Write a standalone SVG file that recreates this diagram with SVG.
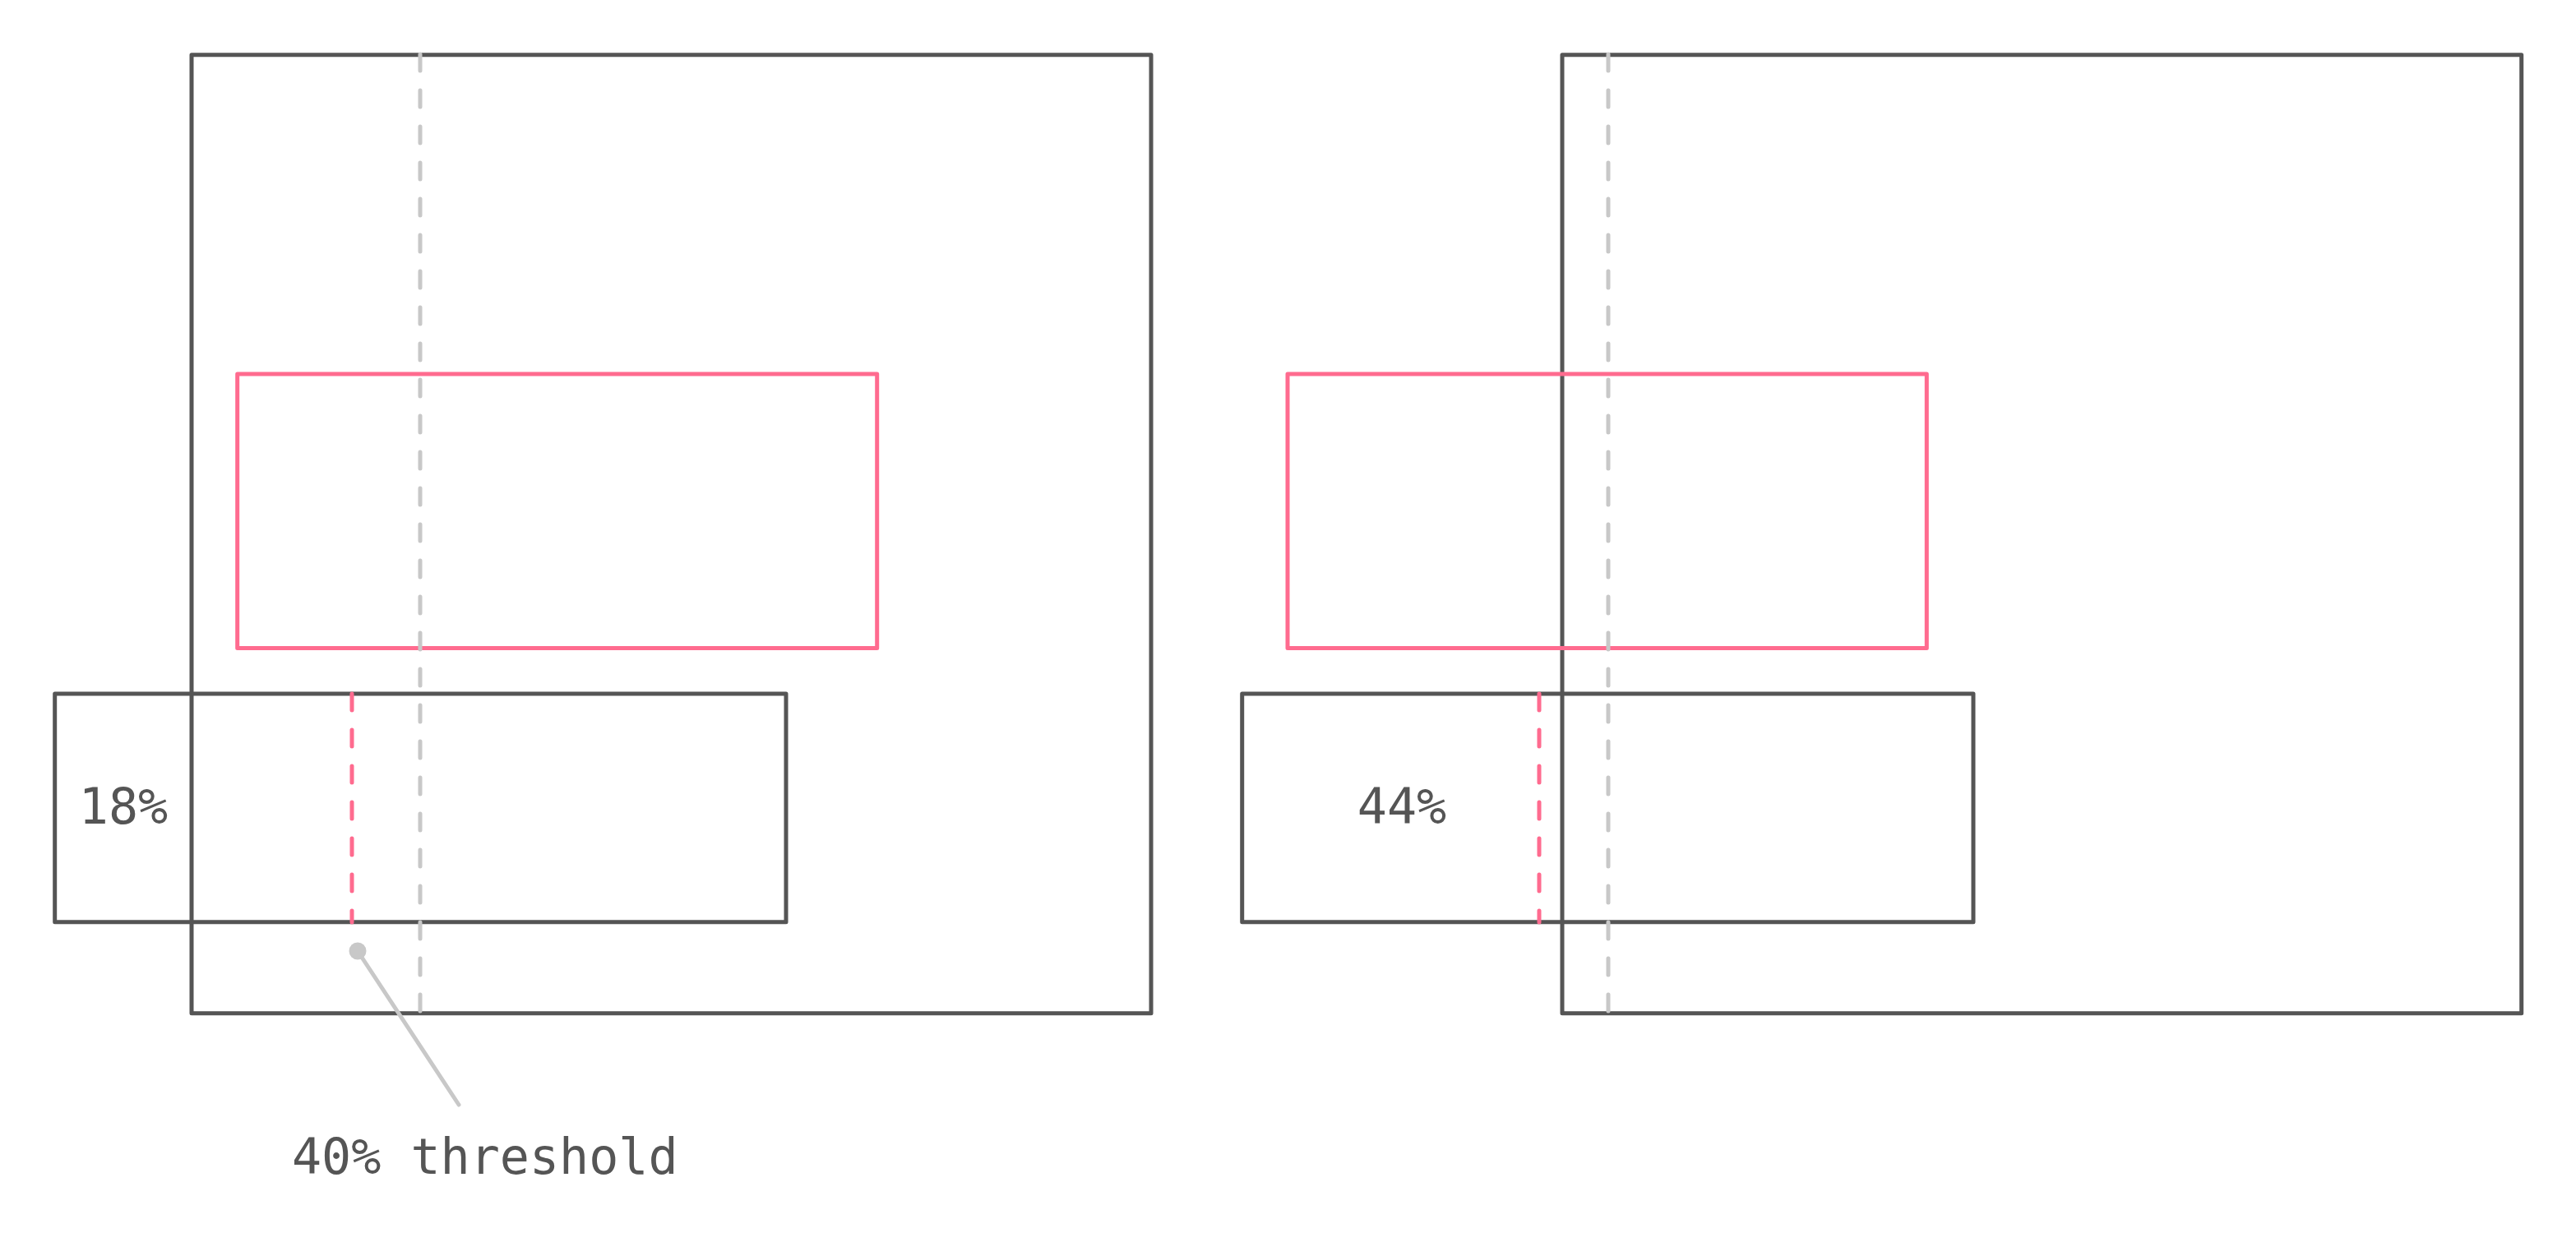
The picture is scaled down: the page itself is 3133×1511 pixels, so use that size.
<svg xmlns="http://www.w3.org/2000/svg" width="3133" height="1511" viewBox="0 0 3133 1511">
<style>
.box{fill:none;stroke:#555555;stroke-width:5;stroke-linejoin:round}
.pink{fill:none;stroke:#ff6b8f;stroke-width:5;stroke-linejoin:round}
.pdash{stroke:#ff6b8f;stroke-width:5;stroke-linecap:round;stroke-dasharray:20 24}
.gdash{stroke:#c8c8c8;stroke-width:5;stroke-linecap:round;stroke-dasharray:20 24}
.lbl{font-family:"DejaVu Sans Mono",monospace;font-size:60px;fill:#555555}
</style>
<rect width="3133" height="1511" fill="#ffffff"/>
<g id="left-panel">
<rect id="left-square" class="box" x="233" y="66.7" width="1167" height="1166"/>
<rect id="left-pink" class="pink" x="288.7" y="455" width="778" height="333.5"/>
<rect id="left-small" class="box" x="66.7" y="844" width="889.3" height="277.7"/>
<text id="left-label" class="lbl" x="150" y="1002" text-anchor="middle">18%</text>
</g>
<g id="right-panel">
<rect id="right-square" class="box" x="1900" y="66.7" width="1166.7" height="1166"/>
<rect id="right-pink" class="pink" x="1566" y="455" width="777.3" height="333.5"/>
<rect id="right-small" class="box" x="1510.7" y="844" width="889.3" height="277.7"/>
<text id="right-label" class="lbl" x="1705" y="1002" text-anchor="middle">44%</text>
</g>
<g id="connectors">
<line class="gdash" x1="511" y1="66" x2="511" y2="1232"/>
<line class="gdash" x1="1956" y1="66" x2="1956" y2="1232"/>
<line class="pdash" x1="428" y1="844" x2="428" y2="1122"/>
<line class="pdash" x1="1872" y1="844" x2="1872" y2="1122"/>
<line x1="435" y1="1157" x2="558" y2="1344" stroke="#c8c8c8" stroke-width="5" stroke-linecap="round"/>
<circle cx="435" cy="1157" r="10.5" fill="#c8c8c8"/>
</g>
<g id="annotation">
<text class="lbl" x="355" y="1428">40% threshold</text>
</g>
</svg>
